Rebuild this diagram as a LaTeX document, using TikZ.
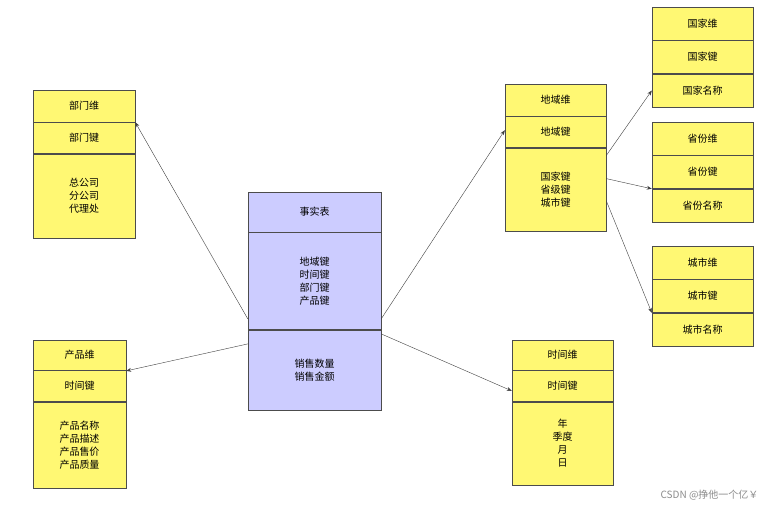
\documentclass[tikz,border=0pt]{standalone}
\usepackage{fontspec}
\setmainfont{Noto Sans CJK SC}
\usetikzlibrary{arrows.meta, positioning}
\tikzset{
    cell/.style = {
      draw=black!70, fill=yellow!55, inner sep=0, align=center,
      minimum width=101pt, font=\fontsize{10}{13}\selectfont,
    },
    fact/.style = {
      cell, fill=blue!20, minimum width=133pt,
    },
    link/.style = {
      black!75, thin, arrows={-Stealth[length=5pt]},
    },
}
\begin{document}
\begin{tikzpicture}[x=1pt, y=-1pt]
    \useasboundingbox [fill=white] (0,0) rectangle (774,514);

    %% Fact table in the middle
    \node [fact, minimum height=40pt] (f1) at (314.5,212) {事实表};
    \node [fact, minimum height=97pt, below=0pt of f1] (f2) {地域键\\时间键\\部门键\\产品键};
    \node [fact, minimum height=80pt, below=0pt of f2] (f3) {销售数量\\销售金额};

    %% Left dimensions
    \node [cell, minimum width=102pt, minimum height=32pt] (d1) at (84,106) {部门维};
    \node [cell, minimum width=102pt, minimum height=31pt, below=0pt of d1] (d2) {部门键};
    \node [cell, minimum width=102pt, minimum height=84pt, below=0pt of d2] (d3) {总公司\\分公司\\代理处};

    \node [cell, minimum width=93pt, minimum height=30pt] (p1) at (79.5,355) {产品维};
    \node [cell, minimum width=93pt, minimum height=31pt, below=0pt of p1] (p2) {时间键};
    \node [cell, minimum width=93pt, minimum height=86pt, below=0pt of p2] (p3) {产品名称\\产品描述\\产品售价\\产品质量};

    %% Right dimensions
    \node [cell, minimum height=32pt] (g1) at (555.5,100) {地域维};
    \node [cell, minimum height=31pt, below=0pt of g1] (g2) {地域键};
    \node [cell, minimum height=83pt, below=0pt of g2] (g3) {国家键\\省级键\\城市键};

    \node [cell, minimum height=30pt] (t1) at (562.5,355) {时间维};
    \node [cell, minimum height=31pt, below=0pt of t1] (t2) {时间键};
    \node [cell, minimum height=83pt, below=0pt of t2] (t3) {年\\季度\\月\\日};

    %% Snowflake level
    \foreach \n/\y/\t in {c/7/国家, s/122/省份, y/246/城市}{%
      \node [cell, minimum height=33pt, anchor=north] (\n1) at (702.5,\y) {\t 维};
      \node [cell, minimum height=33pt, below=0pt of \n1] (\n2) {\t 键};
      \node [cell, minimum height=33pt, below=0pt of \n2] (\n3) {\t 名称};
    }

    %% Links
    \draw [link] ([yshift=-38pt] f2.west) -- (d1.south east);
    \draw [link] ([yshift=-63pt] f2.west) -- ([yshift=15pt] p2.east);
    \draw [link] ([yshift=-38pt] f2.east) -- ([yshift=-14pt] g1.south west);
    \draw [link] ([yshift=-53pt] f2.east) -- ([yshift=-5pt] t2.west);
    \draw [link] ([yshift=-8pt] g3.north east) -- (c3.west);
    \draw [link] ([yshift=-31pt] g3.north east) -- (s2.south west);
    \draw [link] ([yshift=-53pt] g3.north east) -- (y2.south west);

    \node [black!45, font=\fontsize{10}{12}\selectfont, anchor=east] (wm) at (762,495) {CSDN @挣他一个亿￥};
\end{tikzpicture}
\end{document}
